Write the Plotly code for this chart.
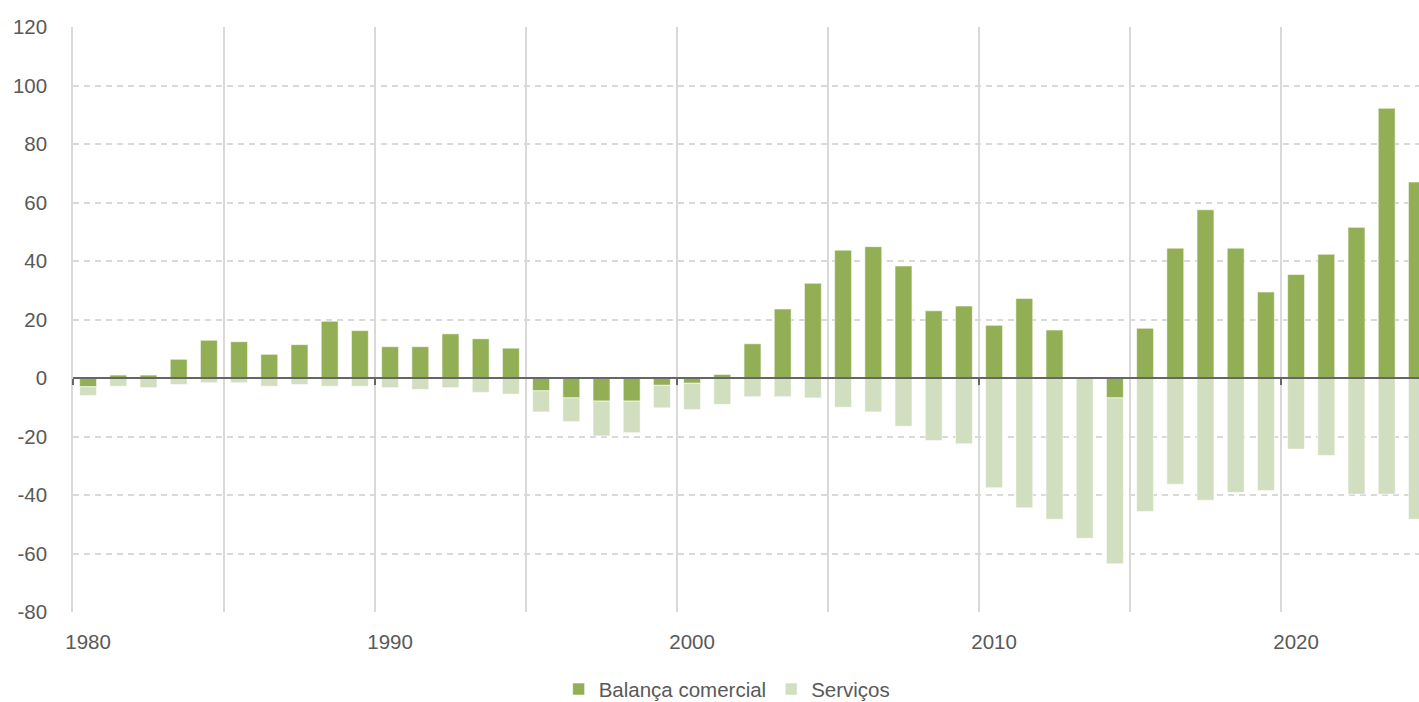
import plotly.graph_objects as go

years = list(range(1980, 2025))
balanca = [-3.0, 1.0, 1.0, 6.4, 12.9, 12.4, 8.1, 11.4, 19.4, 16.2,
           10.7, 10.7, 15.1, 13.4, 10.2, -4.4, -6.8, -7.9, -7.9, -2.5,
           -1.8, 1.2, 11.7, 23.6, 32.4, 43.7, 44.9, 38.3, 23.0, 24.6,
           18.0, 27.2, 16.4, 0.0, -6.8, 17.0, 44.4, 57.5, 44.4, 29.4,
           35.4, 42.3, 51.5, 92.2, 67.0]
servicos = [-3.0, -2.8, -3.3, -2.2, -1.6, -1.6, -2.8, -2.2, -2.8, -2.8,
            -3.3, -3.9, -3.3, -4.9, -5.5, -7.2, -8.1, -11.9, -10.8, -7.7,
            -9.0, -9.0, -6.4, -6.4, -6.8, -10.0, -11.6, -16.5, -21.4, -22.5,
            -37.5, -44.4, -48.3, -54.8, -56.7, -45.6, -36.3, -41.8, -39.1, -38.5,
            -24.3, -26.5, -39.7, -39.7, -48.3]
label_years = [1980, 1990, 2000, 2010, 2020]
grid_years = [1979.5 + 5 * k for k in range(10)]
decade_marks = [1979.5 + 10 * k for k in range(5)]
y_ticks = [-80, -60, -40, -20, 0, 20, 40, 60, 80, 100, 120]
y_ticktext = [str(v) for v in y_ticks]

dark = "#93AF56"
light = "#D1DEBF"
txt = "#595959"
font_family = "Liberation Sans, Arial, sans-serif"

xr = [1979.5, 1979.5 + (1419 - 73) / 30.2]

fig = go.Figure()
fig.add_trace(go.Bar(x=years, y=balanca, name="Balança comercial",
                     marker=dict(color=dark, line=dict(color="rgba(255,255,255,0.7)", width=0.8)),
                     width=0.56))
fig.add_trace(go.Bar(x=years, y=servicos, name="Serviços",
                     marker=dict(color=light, line=dict(color="rgba(255,255,255,0.7)", width=0.8)),
                     width=0.56))
# helper empty traces for overlay axes
fig.add_trace(go.Scatter(x=[], y=[], xaxis="x2", yaxis="y", showlegend=False, hoverinfo="skip"))
fig.add_trace(go.Scatter(x=[], y=[], xaxis="x3", yaxis="y", showlegend=False, hoverinfo="skip"))

fig.update_layout(
    width=1419, height=702,
    margin=dict(l=73, r=0, t=27, b=90, autoexpand=False),
    paper_bgcolor="white", plot_bgcolor="white",
    barmode="relative",
    font=dict(family=font_family, size=20, color=txt),
    xaxis=dict(range=xr, tickmode="array", tickvals=label_years,
               ticktext=[str(v) for v in label_years],
               showgrid=False, zeroline=False, showline=False, ticks="",
               ticklabelstandoff=15, automargin=False,
               tickfont=dict(size=20.5, color=txt)),
    xaxis2=dict(range=xr, overlaying="x", anchor="y", tickmode="array",
                tickvals=grid_years, showticklabels=False, ticks="",
                showgrid=True, gridcolor="#D9D9D9", gridwidth=1.5,
                zeroline=False, showline=False),
    xaxis3=dict(range=xr, overlaying="x", anchor="free", position=0.4,
                tickmode="array", tickvals=decade_marks, showticklabels=False,
                ticks="outside", ticklen=6, tickwidth=1.5, tickcolor="#666666",
                showline=True, linecolor="#666666", linewidth=1.5,
                showgrid=False, zeroline=False, layer="above traces"),
    yaxis=dict(range=[-80, 120], tickmode="array", tickvals=y_ticks, ticktext=y_ticktext,
               showgrid=True, gridcolor="#D9D9D9", gridwidth=1.5, griddash="6px,5px",
               zeroline=False, showline=True, linecolor="#D9D9D9", linewidth=1.5,
               ticks="", ticklabelstandoff=20, automargin=False,
               tickfont=dict(size=20.5, color=txt)),
    legend=dict(orientation="h", x=0.486, xanchor="center", y=-0.132, yanchor="middle",
                font=dict(size=20.5, color=txt), traceorder="normal",
                bgcolor="rgba(0,0,0,0)"),
    showlegend=True,
)

fig.write_html("out.html")
